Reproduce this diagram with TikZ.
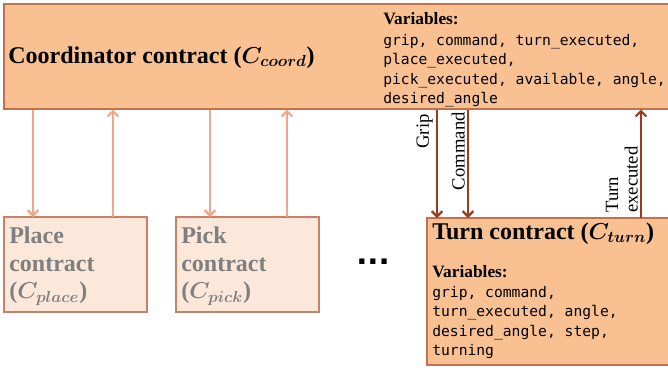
\documentclass[tikz,border=0pt]{standalone}
\usepackage{fontspec}
\usepackage{bm}
\setmainfont{Liberation Serif}
\setmonofont{DejaVu Sans Mono}
\newfontfamily\dotfont{DejaVu Sans}
\usetikzlibrary{positioning,fit,arrows.meta}

\definecolor{peach}{HTML}{F9C192}
\definecolor{peachline}{HTML}{C4704C}
\definecolor{pale}{HTML}{FCE8DA}
\definecolor{paleline}{HTML}{C98064}
\definecolor{softarrow}{HTML}{F3A489}
\definecolor{darkarrow}{HTML}{9A3C1E}
\definecolor{greytext}{HTML}{7F7F7F}

\begin{document}
\begin{tikzpicture}[x=0.75pt,y=0.75pt,
  mainbox/.style={draw=peachline, fill=peach, line width=1pt, inner sep=0pt},
  subbox/.style={draw=paleline, fill=pale, line width=1pt, inner sep=0pt},
  title/.style={font=\fontsize{18}{20.5}\selectfont\bfseries, inner sep=0pt, align=left},
  varhead/.style={font=\fontsize{13}{14}\selectfont\bfseries, inner sep=0pt},
  varlist/.style={font=\fontsize{11}{14.6}\selectfont\ttfamily, inner sep=0pt, align=left},
  softlink/.style={draw=softarrow, line width=1.6pt, -{Straight Barb[length=4pt,width=8pt,line width=1.6pt]}},
  hardlink/.style={draw=darkarrow, line width=1.6pt, -{Straight Barb[length=4pt,width=8pt,line width=1.6pt]}},
  linklabel/.style={font=\fontsize{14}{14.5}\selectfont, inner sep=0pt, rotate=90, align=left}
]
\useasboundingbox (0,0) rectangle (668,-369);

% boxes
\node[mainbox, fit={(4,-4) (672,-109)}] (coord) {};
\node[subbox, fit={(4,-217) (147,-312)}] (place) {};
\node[subbox, fit={(176,-217) (319,-312)}] (pick) {};
\node[mainbox, fit={(427,-218) (672,-365)}] (turn) {};

% coordinator text
\node[title, anchor=base west] (coordname) at (8,-63) {Coordinator contract ($\bm{C_{coord}}$)};
\node[varhead, anchor=base west] (coordhead) at (383,-24) {Variables:};
\node[varlist, anchor=north west] (coordvars) at (383,-34)
  {grip, command, turn\_executed,\\place\_executed,\\pick\_executed, available, angle,\\desired\_angle};

% sub contracts
\node[title, text=greytext, anchor=north west] (placename) at (9,-227)
  {Place\\contract\\($\bm{C_{place}}$)};
\node[title, text=greytext, anchor=north west] (pickname) at (181,-227)
  {Pick\\contract\\($\bm{C_{pick}}$)};
\node[inner sep=0pt, font=\dotfont\fontsize{22}{22}\selectfont\bfseries] (more) at (373,-262) {...};

\node[title, anchor=base west] (turnname) at (432,-239) {Turn contract ($\bm{C_{turn}}$)};
\node[varhead, anchor=base west] (turnhead) at (432,-277) {Variables:};
\node[varlist, anchor=north west] (turnvars) at (432,-286)
  {grip, command,\\turn\_executed, angle,\\desired\_angle, step,\\turning};

% links to the smaller contracts
\coordinate (p1) at (33,-217);
\coordinate (p2) at (113,-217);
\coordinate (k1) at (210,-217);
\coordinate (k2) at (287,-217);
\draw[softlink] (coord.south -| p1) -- (p1);
\draw[softlink] (p2) -- (coord.south -| p2);
\draw[softlink] (coord.south -| k1) -- (k1);
\draw[softlink] (k2) -- (coord.south -| k2);

% links to the turn contract
\coordinate (t1) at (437,-218);
\coordinate (t2) at (468,-218);
\coordinate (t3) at (641,-218);
\draw[hardlink] (coord.south -| t1) -- (t1);
\draw[hardlink] (coord.south -| t2) -- (t2);
\draw[hardlink] (t3) -- (coord.south -| t3);
\node[linklabel, anchor=south east] (grip) at (433,-114) {Grip};
\node[linklabel, anchor=south east] (command) at (465,-112) {Command};
\node[linklabel, anchor=south west] (turned) at (638,-213) {Turn\\executed};
\end{tikzpicture}
\end{document}
